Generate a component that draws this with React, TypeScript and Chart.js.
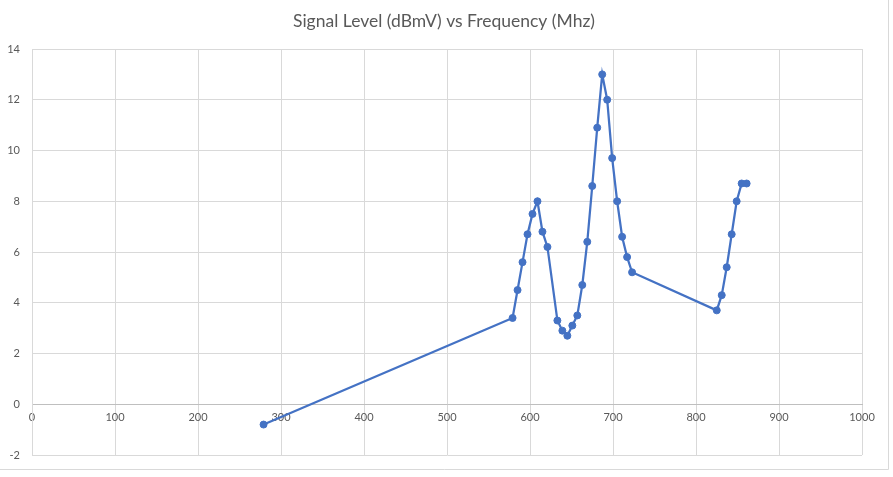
import React, { useEffect, useRef } from "react";
import { Chart, registerables } from "chart.js";

Chart.register(...registerables);

const frequencies = [
  279, 579, 585, 591, 597, 603, 609, 615, 621, 633, 639, 645, 651, 657, 663, 669,
  675, 681, 687, 693, 699, 705, 711, 717, 723, 825, 831, 837, 843, 849, 855, 861,
];
const levels = [
  -0.8, 3.4, 4.5, 5.6, 6.7, 7.5, 8.0, 6.8, 6.2, 3.3, 2.9, 2.7, 3.1, 3.5, 4.7, 6.4,
  8.6, 10.9, 13.0, 12.0, 9.7, 8.0, 6.6, 5.8, 5.2, 3.7, 4.3, 5.4, 6.7, 8.0, 8.7, 8.7,
];
const titleText = "Signal Level (dBmV) vs Frequency (Mhz)";
const xMin = 0, xMax = 1000, xStep = 100;
const yMin = -2, yMax = 14, yStep = 2;

const decorPlugin = {
  id: "decor",
  afterDraw(chart: any) {
    const ctx = chart.ctx;
    ctx.save();
    ctx.strokeStyle = "#d9d9d9";
    ctx.lineWidth = 1;
    ctx.beginPath();
    ctx.moveTo(888.5, 0);
    ctx.lineTo(888.5, 469.5);
    ctx.lineTo(0, 469.5);
    ctx.stroke();
    ctx.fillStyle = "#595959";
    ctx.font = "17.5px Lato, 'Open Sans', sans-serif";
    ctx.textAlign = "center";
    ctx.textBaseline = "middle";
    ctx.fillText(titleText, 444, 21);
    ctx.restore();
  },
};

export default function App() {
  const ref = useRef<HTMLCanvasElement>(null);
  useEffect(() => {
    if (!ref.current) return;
    const data = frequencies.map((f, i) => ({ x: f, y: levels[i] }));
    const chart = new Chart(ref.current, {
      type: "scatter",
      data: {
        datasets: [
          {
            data,
            showLine: true,
            borderColor: "#4472C4",
            backgroundColor: "#4472C4",
            borderWidth: 2.25,
            pointRadius: 3.5,
            pointBorderWidth: 1,
            pointBackgroundColor: "#4472C4",
            pointBorderColor: "#4472C4",
          },
        ],
      },
      options: {
        animation: false,
        responsive: false,
        devicePixelRatio: 1,
        layout: { padding: { left: 0, right: 31, top: 49, bottom: 22 } },
        plugins: {
          legend: { display: false },
          tooltip: { enabled: false },
          title: { display: false },
        },
        scales: {
          x: {
            type: "linear",
            min: xMin,
            max: xMax,
            position: { y: 0 } as any,
            ticks: {
              stepSize: xStep,
              color: "#595959",
              font: { family: "Lato, 'Open Sans', sans-serif", size: 11 },
              padding: 7,
              maxRotation: 0,
              callback: (v: any) => String(v),
            },
            grid: { color: "#d9d9d9", drawTicks: false, lineWidth: 1 },
            border: { display: true, color: "#bfbfbf", width: 1 },
          },
          y: {
            type: "linear",
            min: yMin,
            max: yMax,
            ticks: {
              stepSize: yStep,
              color: "#595959",
              font: { family: "Lato, 'Open Sans', sans-serif", size: 11 },
              padding: 12,
              callback: (v: any) => String(v),
            },
            grid: { color: "#d9d9d9", drawTicks: false, lineWidth: 1 },
            border: { display: true, color: "#d9d9d9", width: 1 },
            afterFit(scale: any) {
              scale.width = 32;
            },
          },
        },
      },
      plugins: [decorPlugin],
    });
    return () => chart.destroy();
  }, []);
  return (
    <div style={{ position: "absolute", left: 0, top: 0, width: 893, height: 477, background: "#fff" }}>
      <canvas ref={ref} width={893} height={477} style={{ width: 893, height: 477 }} />
    </div>
  );
}
